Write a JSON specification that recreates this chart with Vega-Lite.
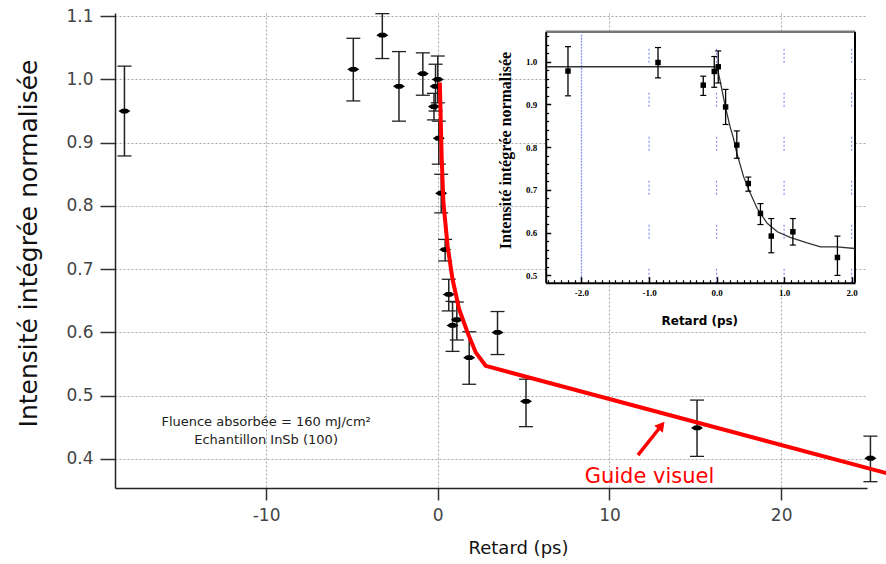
{
  "$schema": "https://vega.github.io/schema/vega-lite/v6.json",
  "width": 752,
  "height": 475,
  "autosize": "none",
  "padding": {"left": 115, "top": 13, "right": 19, "bottom": 76},
  "background": "white",
  "config": {"view": {"stroke": null}},
  "datasets": {
    "main": [
      {"x": -18.25, "y": 0.950, "lo": 0.879, "hi": 1.021},
      {"x": -4.92, "y": 1.016, "lo": 0.966, "hi": 1.065},
      {"x": -3.23, "y": 1.070, "lo": 1.033, "hi": 1.104},
      {"x": -2.26, "y": 0.989, "lo": 0.934, "hi": 1.044},
      {"x": -0.87, "y": 1.009, "lo": 0.975, "hi": 1.042},
      {"x": -0.22, "y": 0.957, "lo": 0.936, "hi": 0.978},
      {"x": -0.13, "y": 0.989, "lo": 0.950, "hi": 1.024},
      {"x": 0.0, "y": 1.000, "lo": 0.963, "hi": 1.037},
      {"x": 0.06, "y": 0.907, "lo": 0.866, "hi": 0.934},
      {"x": 0.2, "y": 0.820, "lo": 0.789, "hi": 0.850},
      {"x": 0.43, "y": 0.731, "lo": 0.713, "hi": 0.747},
      {"x": 0.64, "y": 0.660, "lo": 0.634, "hi": 0.684},
      {"x": 0.86, "y": 0.611, "lo": 0.570, "hi": 0.649},
      {"x": 1.11, "y": 0.620, "lo": 0.588, "hi": 0.648},
      {"x": 1.83, "y": 0.560, "lo": 0.518, "hi": 0.601},
      {"x": 3.48, "y": 0.600, "lo": 0.565, "hi": 0.633},
      {"x": 5.14, "y": 0.491, "lo": 0.451, "hi": 0.526},
      {"x": 15.1, "y": 0.449, "lo": 0.404, "hi": 0.493},
      {"x": 25.2, "y": 0.401, "lo": 0.364, "hi": 0.436}
    ],
    "guide": [
      {"x": 0.12, "y": 0.995},
      {"x": 0.23, "y": 0.874},
      {"x": 0.33, "y": 0.805},
      {"x": 0.57, "y": 0.737},
      {"x": 0.86, "y": 0.684},
      {"x": 1.24, "y": 0.637},
      {"x": 1.73, "y": 0.600},
      {"x": 2.22, "y": 0.568},
      {"x": 2.8, "y": 0.547},
      {"x": 26.2, "y": 0.377}
    ],
    "arrow": [{"x": 11.66, "y": 0.406, "x2": 13.03, "y2": 0.4528}],
    "notes": [
      {"x": -10, "y": 0.459, "t": "Fluence absorbée = 160 mJ/cm²"},
      {"x": -10, "y": 0.430, "t": "Echantillon InSb (100)"}
    ],
    "label": [{"x": 12.33, "y": 0.372, "t": "Guide visuel"}],
    "box": [{"x": -2.53, "x2": 2.05, "y": 0.483, "y2": 1.07}],
    "ins": [
      {"x": -2.2, "y": 0.978, "lo": 0.920, "hi": 1.035},
      {"x": -0.867, "y": 0.998, "lo": 0.962, "hi": 1.033},
      {"x": -0.197, "y": 0.945, "lo": 0.921, "hi": 0.966},
      {"x": -0.034, "y": 0.977, "lo": 0.940, "hi": 1.012},
      {"x": 0.025, "y": 0.988, "lo": 0.950, "hi": 1.025},
      {"x": 0.134, "y": 0.894, "lo": 0.853, "hi": 0.935},
      {"x": 0.30, "y": 0.805, "lo": 0.774, "hi": 0.838},
      {"x": 0.47, "y": 0.715, "lo": 0.697, "hi": 0.730},
      {"x": 0.65, "y": 0.645, "lo": 0.619, "hi": 0.668},
      {"x": 0.81, "y": 0.592, "lo": 0.553, "hi": 0.633},
      {"x": 1.13, "y": 0.602, "lo": 0.571, "hi": 0.633},
      {"x": 1.79, "y": 0.542, "lo": 0.500, "hi": 0.592}
    ],
    "fit": [
      {"x": -2.53, "y": 0.988},
      {"x": 0.006, "y": 0.988},
      {"x": 0.055, "y": 0.953},
      {"x": 0.13, "y": 0.895},
      {"x": 0.20, "y": 0.848},
      {"x": 0.25, "y": 0.821},
      {"x": 0.30, "y": 0.786},
      {"x": 0.40, "y": 0.731},
      {"x": 0.50, "y": 0.692},
      {"x": 0.60, "y": 0.657},
      {"x": 0.75, "y": 0.622},
      {"x": 0.90, "y": 0.602},
      {"x": 1.09, "y": 0.589},
      {"x": 1.34, "y": 0.576},
      {"x": 1.54, "y": 0.567},
      {"x": 1.78, "y": 0.567},
      {"x": 2.05, "y": 0.563}
    ],
    "gridA": [{"x": -2.0, "y": 0.483, "y2": 1.065}],
    "gridB": [
      {"x": -1.0, "y": 0.483, "y2": 1.065},
      {"x": 0.0, "y": 0.483, "y2": 1.065},
      {"x": 1.0, "y": 0.483, "y2": 1.065},
      {"x": 2.0, "y": 0.483, "y2": 1.065}
    ]
  },
  "layer": [
    {
      "layer": [
        {
          "data": {"name": "main"},
          "mark": {"type": "rule", "color": "#222", "strokeWidth": 1.5},
          "encoding": {
            "x": {
              "field": "x", "type": "quantitative",
              "scale": {"domain": [-18.8, 25.0], "nice": false, "zero": false},
              "axis": {
                "values": [-10, 0, 10, 20], "labelExpr": "'' + datum.value",
                "grid": true, "gridDash": [2, 2], "gridColor": "#a8a8a8", "gridWidth": 1,
                "tickSize": 12, "tickColor": "#333", "tickWidth": 1.5,
                "domainColor": "#222", "domainWidth": 1.5,
                "labelFont": "DejaVu Sans", "labelFontSize": 17, "labelColor": "#444", "labelPadding": 7,
                "labelFlush": false, "labelOverlap": false,
                "title": "Retard (ps)", "titleFont": "DejaVu Sans", "titleFontSize": 18, "titleFontWeight": "normal",
                "titleColor": "#111", "titleX": 403, "titleY": 60, "titleBaseline": "middle", "titleAlign": "center"
              }
            },
            "y": {
              "field": "lo", "type": "quantitative",
              "scale": {"domain": [0.354, 1.105], "nice": false, "zero": false},
              "axis": {
                "values": [0.4, 0.5, 0.6, 0.7, 0.8, 0.9, 1.0, 1.1], "format": ".1f",
                "grid": true, "gridDash": [2, 2], "gridColor": "#a8a8a8", "gridWidth": 1,
                "tickSize": 15, "tickColor": "#333", "tickWidth": 1.5,
                "domainColor": "#222", "domainWidth": 1.5,
                "labelFont": "DejaVu Sans", "labelFontSize": 17, "labelColor": "#444", "labelPadding": 7,
                "labelOverlap": false,
                "title": "Intensité intégrée normalisée", "titleFont": "DejaVu Sans", "titleFontSize": 25,
                "titleFontWeight": "normal", "titleColor": "#111",
                "titleX": -87, "titleY": 230, "titleAngle": 270, "titleBaseline": "middle", "titleAlign": "center"
              }
            },
            "y2": {"field": "hi"}
          }
        },
        {
          "data": {"name": "main"},
          "mark": {"type": "point", "shape": "M-1,0L1,0", "size": 196, "filled": false, "color": "#222", "strokeWidth": 1.3, "opacity": 1},
          "encoding": {"x": {"field": "x", "type": "quantitative"}, "y": {"field": "lo", "type": "quantitative"}}
        },
        {
          "data": {"name": "main"},
          "mark": {"type": "point", "shape": "M-1,0L1,0", "size": 196, "filled": false, "color": "#222", "strokeWidth": 1.3, "opacity": 1},
          "encoding": {"x": {"field": "x", "type": "quantitative"}, "y": {"field": "hi", "type": "quantitative"}}
        },
        {
          "data": {"name": "main"},
          "mark": {"type": "point", "shape": "M-1,0L-0.4,-0.4L0.4,-0.4L1,0L0.4,0.4L-0.4,0.4Z", "size": 144, "filled": true, "color": "#000", "opacity": 1},
          "encoding": {"x": {"field": "x", "type": "quantitative"}, "y": {"field": "y", "type": "quantitative"}}
        },
        {
          "data": {"name": "guide"},
          "mark": {"type": "line", "color": "#ff0000", "strokeWidth": 4, "strokeJoin": "round"},
          "encoding": {"x": {"field": "x", "type": "quantitative"}, "y": {"field": "y", "type": "quantitative"}}
        },
        {
          "data": {"name": "arrow"},
          "mark": {"type": "rule", "color": "#ff0000", "strokeWidth": 3.5},
          "encoding": {
            "x": {"field": "x", "type": "quantitative"}, "y": {"field": "y", "type": "quantitative"},
            "x2": {"field": "x2"}, "y2": {"field": "y2"}
          }
        },
        {
          "data": {"name": "arrow"},
          "mark": {"type": "point", "shape": "triangle-up", "size": 120, "filled": true, "color": "#ff0000", "opacity": 1, "angle": 38.6},
          "encoding": {"x": {"field": "x2", "type": "quantitative"}, "y": {"field": "y2", "type": "quantitative"}}
        },
        {
          "data": {"name": "notes"},
          "mark": {"type": "text", "font": "DejaVu Sans", "fontSize": 13, "color": "#222", "align": "center", "baseline": "middle"},
          "encoding": {"x": {"field": "x", "type": "quantitative"}, "y": {"field": "y", "type": "quantitative"}, "text": {"field": "t"}}
        },
        {
          "data": {"name": "label"},
          "mark": {"type": "text", "font": "DejaVu Sans", "fontSize": 21, "color": "#ff0000", "align": "center", "baseline": "middle"},
          "encoding": {"x": {"field": "x", "type": "quantitative"}, "y": {"field": "y", "type": "quantitative"}, "text": {"field": "t"}}
        }
      ]
    },
    {
      "layer": [
        {
          "data": {"name": "box"},
          "mark": {"type": "rect", "fill": "white", "stroke": null},
          "encoding": {
            "x": {
              "field": "x", "type": "quantitative",
              "scale": {"domain": [-2.53, 2.05], "range": [430.7, 740], "nice": false, "zero": false},
              "axis": {
                "orient": "bottom", "offset": -205.3, "zindex": 1,
                "values": [-2, -1, 0, 1, 2],
                "labelExpr": "(datum.value < 0 ? '-' : '') + format(abs(datum.value), '.1f')",
                "grid": false,
                "tickSize": -6, "tickColor": "#000", "tickWidth": 1.5,
                "domainColor": "#000", "domainWidth": 2,
                "labelFont": "Liberation Serif", "labelFontWeight": "bold", "labelFontSize": 9, "labelColor": "#000",
                "labelPadding": 12, "labelFlush": false, "labelOverlap": false,
                "title": "Retard (ps)", "titleFont": "DejaVu Sans", "titleFontSize": 12, "titleFontWeight": "bold",
                "titleColor": "#000", "titleX": 584.3, "titleY": 37.3, "titleBaseline": "middle", "titleAlign": "center"
              }
            },
            "x2": {"field": "x2"},
            "y": {
              "field": "y", "type": "quantitative",
              "scale": {"domain": [0.483, 1.07], "range": [269.7, 18.7], "nice": false, "zero": false},
              "axis": {
                "orient": "left", "offset": -430.7, "zindex": 1,
                "values": [0.5, 0.6, 0.7, 0.8, 0.9, 1.0], "format": ".1f", "grid": false,
                "tickSize": -5, "tickColor": "#000", "tickWidth": 1.5,
                "domainColor": "#000", "domainWidth": 2,
                "labelFont": "Liberation Serif", "labelFontWeight": "bold", "labelFontSize": 9, "labelColor": "#000",
                "labelPadding": 14, "labelOverlap": false,
                "title": "Intensité intégrée normalisée", "titleFont": "Liberation Serif", "titleFontSize": 16,
                "titleFontWeight": "bold", "titleColor": "#000",
                "titleX": -40.7, "titleY": 137, "titleAngle": 270, "titleBaseline": "middle", "titleAlign": "center"
              }
            },
            "y2": {"field": "y2"}
          }
        },
        {
          "data": {"name": "gridA"},
          "mark": {"type": "rule", "color": "#8a8ff5", "strokeWidth": 1.3, "strokeDash": [2, 1]},
          "encoding": {"x": {"field": "x", "type": "quantitative"}, "y": {"field": "y", "type": "quantitative"}, "y2": {"field": "y2"}}
        },
        {
          "data": {"name": "gridB"},
          "mark": {"type": "rule", "color": "#8a8ff5", "strokeWidth": 1.2, "strokeDash": [2, 2, 2, 2, 2, 2, 2, 30]},
          "encoding": {"x": {"field": "x", "type": "quantitative"}, "y": {"field": "y", "type": "quantitative"}, "y2": {"field": "y2"}}
        },
        {
          "data": {"name": "box"},
          "mark": {"type": "rule", "color": "#777", "strokeWidth": 2.5},
          "encoding": {"x": {"field": "x", "type": "quantitative"}, "x2": {"field": "x2"}, "y": {"field": "y2", "type": "quantitative"}}
        },
        {
          "data": {"name": "box"},
          "mark": {"type": "rule", "color": "#000", "strokeWidth": 2},
          "encoding": {"x": {"field": "x2", "type": "quantitative"}, "y": {"field": "y", "type": "quantitative"}, "y2": {"field": "y2"}}
        },
        {
          "data": {"name": "fit"},
          "mark": {"type": "line", "color": "#333", "strokeWidth": 1.3},
          "encoding": {"x": {"field": "x", "type": "quantitative"}, "y": {"field": "y", "type": "quantitative"}}
        },
        {
          "data": {"name": "ins"},
          "mark": {"type": "rule", "color": "#000", "strokeWidth": 1.3},
          "encoding": {"x": {"field": "x", "type": "quantitative"}, "y": {"field": "lo", "type": "quantitative"}, "y2": {"field": "hi"}}
        },
        {
          "data": {"name": "ins"},
          "mark": {"type": "point", "shape": "M-1,0L1,0", "size": 36, "filled": false, "color": "#000", "strokeWidth": 1.2, "opacity": 1},
          "encoding": {"x": {"field": "x", "type": "quantitative"}, "y": {"field": "lo", "type": "quantitative"}}
        },
        {
          "data": {"name": "ins"},
          "mark": {"type": "point", "shape": "M-1,0L1,0", "size": 36, "filled": false, "color": "#000", "strokeWidth": 1.2, "opacity": 1},
          "encoding": {"x": {"field": "x", "type": "quantitative"}, "y": {"field": "hi", "type": "quantitative"}}
        },
        {
          "data": {"name": "ins"},
          "mark": {"type": "point", "shape": "square", "size": 30, "filled": true, "color": "#000", "opacity": 1},
          "encoding": {"x": {"field": "x", "type": "quantitative"}, "y": {"field": "y", "type": "quantitative"}}
        }
      ]
    },
    {
      "data": {"name": "box"},
      "mark": {"type": "point", "opacity": 0},
      "encoding": {
        "x": {
          "field": "x", "type": "quantitative",
          "scale": {"domain": [-2.53, 2.05], "range": [430.7, 740], "nice": false, "zero": false},
          "axis": {
            "orient": "bottom", "offset": -205.3, "zindex": 1, "grid": false, "domain": false, "labels": false, "title": null,
            "tickSize": -3, "tickColor": "#000", "tickWidth": 1.2,
            "values": [-2.5, -2.4, -2.3, -2.2, -2.1, -1.9, -1.8, -1.7, -1.6, -1.5, -1.4, -1.3, -1.2, -1.1, -0.9, -0.8, -0.7, -0.6, -0.5, -0.4, -0.3, -0.2, -0.1, 0.1, 0.2, 0.3, 0.4, 0.5, 0.6, 0.7, 0.8, 0.9, 1.1, 1.2, 1.3, 1.4, 1.5, 1.6, 1.7, 1.8, 1.9]
          }
        },
        "y": {
          "field": "y", "type": "quantitative",
          "scale": {"domain": [0.483, 1.07], "range": [269.7, 18.7], "nice": false, "zero": false},
          "axis": {
            "orient": "left", "offset": -430.7, "zindex": 1, "grid": false, "domain": false, "labels": false, "title": null,
            "tickSize": -3, "tickColor": "#000", "tickWidth": 1.2,
            "values": [0.52, 0.54, 0.56, 0.58, 0.62, 0.64, 0.66, 0.68, 0.72, 0.74, 0.76, 0.78, 0.82, 0.84, 0.86, 0.88, 0.92, 0.94, 0.96, 0.98, 1.02, 1.04, 1.06]
          }
        }
      }
    }
  ],
  "resolve": {
    "scale": {"x": "independent", "y": "independent"},
    "axis": {"x": "independent", "y": "independent"}
  }
}
